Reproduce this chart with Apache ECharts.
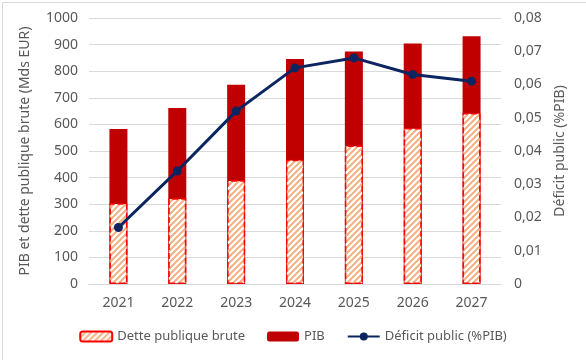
<!DOCTYPE html>
<html><head><meta charset="utf-8">
<script src="https://cdn.jsdelivr.net/npm/echarts@6/dist/echarts.min.js"></script>
<style>html,body{margin:0;padding:0;background:#fff}#c{width:586px;height:360px}</style>
</head><body><div id="c"></div>
<script>
const categories = ['2021','2022','2023','2024','2025','2026','2027'];
const pib = [583, 662, 749, 846, 874, 904, 931];
const dette = [304, 322, 390, 467, 521, 586, 643];
const deficit = [0.017, 0.034, 0.052, 0.065, 0.068, 0.063, 0.061];
const leftTicks = {min: 0, max: 1000, interval: 100};
const rightTicks = {min: 0, max: 0.08, interval: 0.01};

function hatch() {
  const s = 6;
  const cv = document.createElement('canvas');
  cv.width = s; cv.height = s;
  const g = cv.getContext('2d');
  g.fillStyle = '#ffffff'; g.fillRect(0,0,s,s);
  g.strokeStyle = '#F4B183'; g.lineWidth = 2;
  g.beginPath();
  g.moveTo(-1, s+1); g.lineTo(s+1, -1);
  g.moveTo(-1, 1); g.lineTo(1, -1);
  g.moveTo(s-1, s+1); g.lineTo(s+1, s-1);
  g.stroke();
  return cv;
}
const font = 'Noto Sans';
const txt = '#595959';
const fs = 14;
const chart = echarts.init(document.getElementById('c'), null, {renderer:'canvas'});
chart.setOption({
  animation: false,
  textStyle: {fontFamily: font},
  graphic: [{type:'rect', left:0, top:0, shape:{x:0.5,y:0.5,width:585,height:359}, style:{fill:'none', stroke:'#D9D9D9', lineWidth:1}}],
  grid: {left: 89, right: 85, top: 18, bottom: 76},
  legend: {
    bottom: 12, left: 'center', itemGap: 22, itemWidth: 32, itemHeight: 10,
    textStyle: {color: txt, fontSize: 13, fontFamily: font},
    data: ['Dette publique brute', 'PIB', 'Déficit public (%PIB)']
  },
  xAxis: {
    type: 'category', data: categories,
    axisLine: {lineStyle: {color: '#D9D9D9'}}, axisTick: {show: false},
    axisLabel: {color: txt, fontSize: fs, margin: 12, fontFamily: font}
  },
  yAxis: [{
    type: 'value', min: leftTicks.min, max: leftTicks.max, interval: leftTicks.interval,
    name: 'PIB et dette publique brute (Mds EUR)', nameLocation: 'middle', nameGap: 57, nameRotate: 90,
    nameTextStyle: {color: txt, fontSize: fs, fontFamily: font},
    axisLabel: {color: txt, fontSize: fs, margin: 11, fontFamily: font, formatter: v => String(v)},
    splitLine: {lineStyle: {color: '#D9D9D9'}}
  }, {
    type: 'value', min: rightTicks.min, max: rightTicks.max, interval: rightTicks.interval,
    name: 'Déficit public (%PIB)', nameLocation: 'middle', nameGap: 52, nameRotate: 90,
    nameTextStyle: {color: txt, fontSize: fs, fontFamily: font},
    axisLabel: {color: txt, fontSize: fs, margin: 13, fontFamily: font,
      formatter: v => v === 0 ? '0' : v.toFixed(2).replace('.', ',')},
    splitLine: {show: false}
  }],
  series: [{
    name: 'PIB', type: 'bar', data: pib, barWidth: 18,
    itemStyle: {color: '#C00000'}
  }, {
    name: 'Dette publique brute', type: 'bar', data: dette, barWidth: 18, barGap: '-100%',
    itemStyle: {color: {image: hatch(), repeat: 'repeat'}, borderColor: '#FF0000', borderWidth: 1.5, borderType: [6, 3]}
  }, {
    name: 'Déficit public (%PIB)', type: 'line', yAxisIndex: 1, data: deficit,
    symbol: 'circle', symbolSize: 9,
    lineStyle: {color: '#0B2560', width: 3}, itemStyle: {color: '#0B2560'}
  }]
});
</script></body></html>
